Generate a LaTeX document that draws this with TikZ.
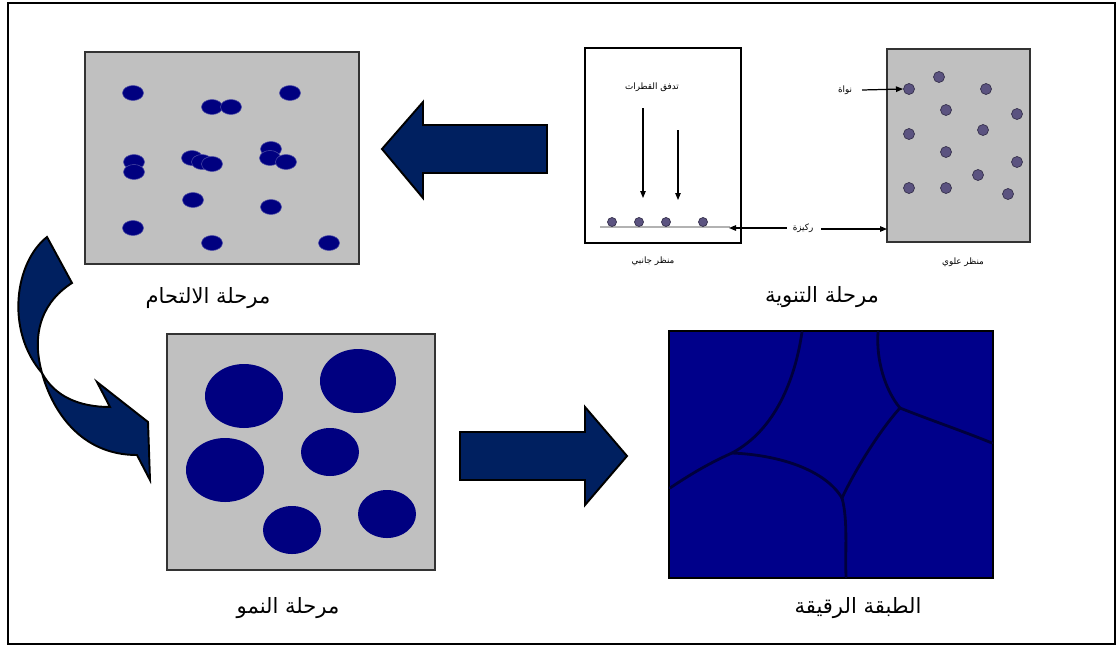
\documentclass[tikz,border=0pt]{standalone}
\usepackage{fontspec}
\usepackage{tikz}
\usetikzlibrary{arrows.meta}
\TeXXeTstate=1
\newfontfamily\arabicfont[Script=Arabic]{DejaVu Sans}
\newcommand{\artext}[1]{{\arabicfont\beginR #1\endR}}
\definecolor{panelgray}{HTML}{C0C0C0}
\definecolor{dotnavy}{HTML}{000080}
\definecolor{filmblue}{HTML}{00008A}
\definecolor{grainline}{HTML}{00003C}
\definecolor{blockblue}{HTML}{002060}
\definecolor{nucleus}{HTML}{5B5380}

\begin{document}
\begin{tikzpicture}[
  x=0.02cm, y=-0.02cm,
  >={Triangle[length=1.4mm, width=1.1mm]},
  panel/.style={draw=black!80, fill=panelgray, line width=0.8pt, inner sep=0pt, outer sep=0pt},
  stagename/.style={font=\fontsize{12}{14}\selectfont, inner sep=1pt},
  smallname/.style={font=\fontsize{5}{6}\selectfont, inner sep=1pt},
  blockarrow/.style={fill=blockblue, draw=black, line width=1.1pt, line join=miter},
  coaldot/.style={fill=dotnavy, draw=dotnavy!70!white, line width=0.3pt},
  nucdot/.style={fill=nucleus, draw=nucleus!60!black, line width=0.4pt},
  grain/.style={draw=grainline, line width=1.6pt, line cap=round}
]
\useasboundingbox (0,0) rectangle (1118,646);
\draw[line width=1.2pt] (8,3) rectangle (1115,644);

% panels
\node[panel, minimum width=5.48cm, minimum height=4.24cm] (coal) at (222,158) {};
\node[panel, minimum width=5.36cm, minimum height=4.72cm] (growth) at (301,452) {};
\node[panel, fill=filmblue, draw=black, minimum width=6.48cm, minimum height=4.94cm] (film) at (831,454.5) {};
\node[panel, fill=white, draw=black, minimum width=3.12cm, minimum height=3.9cm] (side) at (663,145.5) {};
\node[panel, minimum width=2.86cm, minimum height=3.86cm] (top) at (958.5,145.5) {};

% coalescence islands
\foreach \x/\y in {133/93, 290/93, 212/107, 231/107, 134/162, 134/172,
                   192/158, 202/162, 212/164, 271/149, 270/158, 286/162,
                   193/200, 271/207, 133/228, 212/243, 329/243}
  \filldraw[coaldot] (\x,\y) ellipse [x radius=10.5, y radius=7.5];

% grown islands
\foreach \x/\y/\a/\b in {244/396/39/32, 358/381/38/32, 225/470/39/32,
                         330/452/29/24, 292/530/29/24, 387/514/29/24}
  \fill[dotnavy] (\x,\y) ellipse [x radius=\a, y radius=\b];

% grain boundaries of the film
\draw[grain] (802,332) .. controls (795,380) and (775,430) .. (732,453);
\draw[grain] (732,453) .. controls (705,465) and (685,478) .. (670,488);
\draw[grain] (732,453) .. controls (780,455) and (825,470) .. (842,498);
\draw[grain] (842,498) .. controls (848,520) and (845,550) .. (846,577);
\draw[grain] (842,498) .. controls (855,470) and (880,430) .. (900,408);
\draw[grain] (900,408) .. controls (885,390) and (876,360) .. (878,332);
\draw[grain] (900,408) .. controls (930,420) and (960,430) .. (992,443);

% side view: substrate and nuclei
\draw[black!30, line width=1.6pt] (600,227) -- (730,227);
\coordinate (subend) at (729,228);
\foreach \x in {612, 639, 666, 703}
  \filldraw[nucdot] (\x,222) circle [radius=4.5];
\node[smallname] (flow) at (652,87) {\artext{تدفق القطرات}};
\coordinate (fa1) at (643,108);
\coordinate (fb1) at (643,198);
\coordinate (fa2) at (678,130);
\coordinate (fb2) at (678,200);
\draw[->, line width=0.6pt] (fa1) -- (fb1);
\draw[->, line width=0.6pt] (fa2) -- (fb2);

% top view nuclei
\foreach \x/\y in {909/89, 939/77, 986/89, 946/110, 1017/114, 909/134, 983/130,
                   946/152, 1017/162, 978/175, 909/188, 946/188, 1008/194}
  \filldraw[nucdot] (\x,\y) circle [radius=5.5];
\coordinate (firstnuc) at (903,89);

\node[smallname] (nuc) at (845,90) {\artext{نواة}};
\draw[->, line width=0.7pt] (862,90) -- (firstnuc);
\node[smallname] (sub) at (803,228) {\artext{ركيزة}};
\draw[->, line width=0.7pt] (sub.west) ++(-4,0) -- (subend);
\draw[->, line width=0.7pt] (sub.east) ++(6,1) -- (top.west |- 0,229);

\node[smallname] (sidename) at (653,261) {\artext{منظر جانبي}};
\node[smallname] (topname) at (963,262) {\artext{منظر علوي}};

% stage names
\node[stagename] (lcoal) at (208,298) {\artext{مرحلة الالتحام}};
\node[stagename] (lnuc) at (822,297) {\artext{مرحلة التنوية}};
\node[stagename] (lgrowth) at (288,608) {\artext{مرحلة النمو}};
\node[stagename] (lfilm) at (858,608) {\artext{الطبقة الرقيقة}};

% block arrows between stages
\filldraw[blockarrow] (547,125) -- (423,125) -- (423,102) -- (382,149)
  -- (423,198) -- (423,173) -- (547,173) -- cycle;
\filldraw[blockarrow] (460,432) -- (585,432) -- (585,407) -- (627,456)
  -- (585,505) -- (585,480) -- (460,480) -- cycle;
% twisted arrow from coalescence down to growth
\filldraw[blockarrow] (47,237) .. controls (15,262) and (5,330) .. (42,373)
  .. controls (52,410) and (80,455) .. (137,455) -- (150,480) -- (148,422)
  -- (97,382) -- (110,407) .. controls (80,407) and (55,397) .. (42,373)
  .. controls (30,330) and (45,300) .. (72,283) -- cycle;
\end{tikzpicture}
\end{document}
